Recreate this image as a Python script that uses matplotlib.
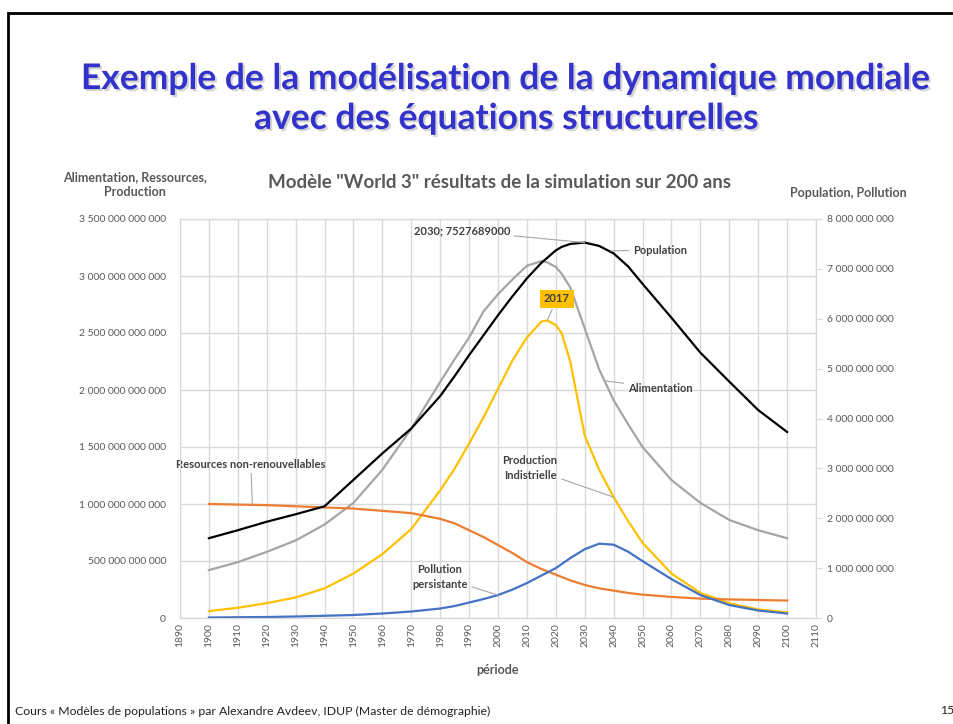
import matplotlib
matplotlib.use("Agg")
import matplotlib.pyplot as plt
import matplotlib.patheffects as pe
from matplotlib.patches import Rectangle
from matplotlib.ticker import FuncFormatter, MultipleLocator

plt.rcParams['font.family'] = ['Lato', 'DejaVu Sans']

# --- data ---
years = [1900, 1910, 1920, 1930, 1940, 1950, 1960, 1970, 1980, 1985, 1990, 1995,
         2000, 2005, 2010, 2015, 2017, 2020, 2022, 2025, 2030, 2035, 2040, 2045,
         2050, 2060, 2070, 2080, 2090, 2100]

# right axis
population = [1.60e9, 1.76e9, 1.93e9, 2.08e9, 2.24e9, 2.77e9, 3.30e9, 3.80e9, 4.45e9, 4.85e9,
              5.27e9, 5.67e9, 6.07e9, 6.45e9, 6.81e9, 7.12e9, 7.22e9, 7.37e9, 7.44e9, 7.50e9,
              7527689000, 7.46e9, 7.31e9, 7.05e9, 6.70e9, 6.02e9, 5.32e9, 4.74e9, 4.17e9, 3.73e9]
pollution = [0.01e9, 0.015e9, 0.02e9, 0.03e9, 0.045e9, 0.06e9, 0.09e9, 0.13e9, 0.19e9, 0.24e9,
             0.31e9, 0.38e9, 0.46e9, 0.57e9, 0.70e9, 0.85e9, 0.91e9, 1.00e9, 1.08e9, 1.20e9,
             1.38e9, 1.49e9, 1.47e9, 1.33e9, 1.14e9, 0.78e9, 0.46e9, 0.26e9, 0.15e9, 0.09e9]

# left axis
alimentation = [0.42e12, 0.49e12, 0.58e12, 0.68e12, 0.82e12, 1.01e12, 1.30e12, 1.66e12, 2.07e12, 2.27e12,
                2.46e12, 2.69e12, 2.84e12, 2.97e12, 3.09e12, 3.13e12, 3.12e12, 3.08e12, 3.02e12, 2.90e12,
                2.54e12, 2.18e12, 1.91e12, 1.70e12, 1.50e12, 1.21e12, 1.01e12, 0.86e12, 0.77e12, 0.70e12]
production = [0.06e12, 0.09e12, 0.13e12, 0.18e12, 0.26e12, 0.39e12, 0.56e12, 0.78e12, 1.12e12, 1.31e12,
              1.53e12, 1.76e12, 2.01e12, 2.26e12, 2.46e12, 2.60e12, 2.61e12, 2.57e12, 2.50e12, 2.25e12,
              1.60e12, 1.30e12, 1.06e12, 0.85e12, 0.66e12, 0.39e12, 0.22e12, 0.13e12, 0.075e12, 0.05e12]
ressources = [1.00e12, 0.995e12, 0.99e12, 0.98e12, 0.97e12, 0.96e12, 0.94e12, 0.92e12, 0.87e12, 0.83e12,
              0.77e12, 0.71e12, 0.64e12, 0.57e12, 0.49e12, 0.43e12, 0.41e12, 0.38e12, 0.36e12, 0.33e12,
              0.29e12, 0.26e12, 0.24e12, 0.22e12, 0.205e12, 0.185e12, 0.17e12, 0.163e12, 0.158e12, 0.153e12]

xticks = list(range(1890, 2111, 10))

grey_txt = '#595959'
grid_c = '#d9d9d9'

def spaced(v, pos):
    return f"{v:,.0f}".replace(",", " ")

fig = plt.figure(figsize=(9.54, 7.24), dpi=100)

# slide frame
fig.patches.append(Rectangle((8 / 954, -0.01), 1.1, (724 - 13) / 724 + 0.01,
                             transform=fig.transFigure, fill=False, ec='black', lw=2))

# slide title
fig.text(506 / 954, 1 - 99 / 724, "Exemple de la modélisation de la dynamique mondiale\navec des équations structurelles",
         ha='center', va='center', fontsize=25.5, fontweight='bold', color='#3333CC',
         linespacing=1.3,
         path_effects=[pe.withSimplePatchShadow(offset=(1.5, -1.5), shadow_rgbFace='#aaaaaa', alpha=0.5)])

ax = fig.add_axes([180 / 954, 106 / 724, 636 / 954, 399 / 724])
ax2 = ax.twinx()

ax.plot(years, alimentation, color='#A5A5A5', lw=1.6)
ax.plot(years, production, color='#FFC000', lw=1.6)
ax.plot(years, ressources, color='#ED7D31', lw=1.6)
ax2.plot(years, population, color='black', lw=1.6)
ax2.plot(years, pollution, color='#4472C4', lw=1.6)

ax.set_xlim(1890, 2110)
ax.set_ylim(0, 3.5e12)
ax2.set_ylim(0, 8e9)
ax.set_xticks(xticks)
ax.set_xticklabels([str(x) for x in xticks], rotation=90)
ax.yaxis.set_major_locator(MultipleLocator(5e11))
ax2.yaxis.set_major_locator(MultipleLocator(1e9))
ax.yaxis.set_major_formatter(FuncFormatter(spaced))
ax2.yaxis.set_major_formatter(FuncFormatter(spaced))

ax.grid(True, color=grid_c, lw=1)
ax.set_axisbelow(True)
for a in (ax, ax2):
    for s in a.spines.values():
        s.set_color(grid_c)
ax.tick_params(axis='both', colors=grey_txt, labelsize=7.5, length=0, pad=10)
ax2.tick_params(axis='y', colors=grid_c, labelcolor=grey_txt, labelsize=7.5, length=4, pad=4)
ax.tick_params(axis='x', pad=4)

ax.set_xlabel("période", fontsize=9, fontweight='bold', color=grey_txt, labelpad=12)
fig.text(500 / 954, 1 - 183 / 724, 'Modèle "World 3" résultats de la simulation sur 200 ans',
         ha='center', va='center', fontsize=13.5, fontweight='bold', color=grey_txt)
fig.text(135 / 954, 1 - 185 / 724, "Alimentation, Ressources,\nProduction", ha='center', va='center',
         fontsize=9, fontweight='bold', color=grey_txt, linespacing=1.3)
fig.text(848 / 954, 1 - 193 / 724, "Population, Pollution", ha='center', va='center',
         fontsize=9, fontweight='bold', color=grey_txt)

# data labels with leader lines
lab = dict(fontsize=8, fontweight='bold', color='#404040', textcoords='figure pixels',
           arrowprops=dict(arrowstyle='-', color='#a6a6a6', lw=0.8, shrinkA=1, shrinkB=0))
i30 = years.index(2030)
ax2.annotate(f"{years[i30]}; {population[i30]}", xy=(years[i30], population[i30]),
             xytext=(510, 724 - 231), ha='right', va='center', **lab)
i40 = years.index(2040)
ax2.annotate("Population", xy=(years[i40] - 1, population[i40] + 0.05e9),
             xytext=(633, 724 - 250), ha='left', va='center', **lab)
ax.annotate("Alimentation", xy=(2037, alimentation[years.index(2035)] - 0.1e12),
            xytext=(628, 724 - 388), ha='left', va='center', **lab)
i17 = years.index(2017)
ax.annotate(str(years[i17]), xy=(years[i17], production[i17]),
            xytext=(557, 724 - 299), ha='center', va='center',
            bbox=dict(boxstyle='square,pad=0.35', fc='#FFC000', ec='none'), **lab)
ax.annotate("Production\nIndistrielle", xy=(years[i40], production[i40]),
            xytext=(530, 724 - 468), ha='center', va='center', linespacing=1.4, **lab)
ax2.annotate("Pollution\npersistante", xy=(2000, pollution[years.index(2000)]),
             xytext=(440, 724 - 577), ha='center', va='center', linespacing=1.4, **lab)
ax.annotate("Resources non-renouvellables", xy=(1915, ressources[1]),
            xytext=(251, 724 - 464), ha='center', va='center', **lab)

# footer
fig.text(15 / 954, 1 - 711 / 724,
         "Cours « Modèles de populations » par Alexandre Avdeev, IDUP (Master de démographie)",
         ha='left', va='center', fontsize=8.8, color='#222222')
fig.text(940 / 954, 1 - 711 / 724, "15", ha='left', va='center', fontsize=8.8, color='#222222')

fig.savefig("out.png", dpi=100)
